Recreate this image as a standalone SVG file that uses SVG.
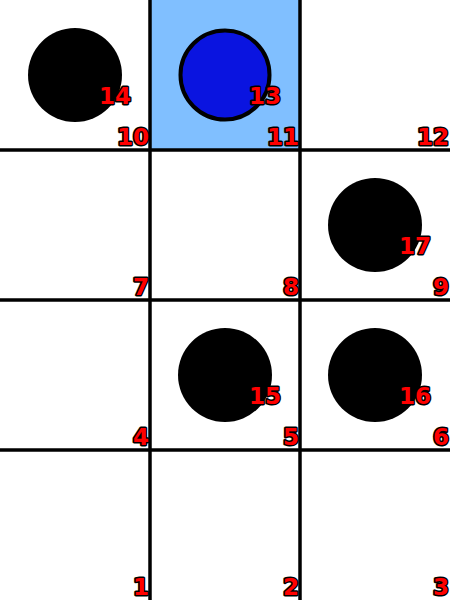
<svg xmlns="http://www.w3.org/2000/svg" width="450" height="600" viewBox="0 0 450 600">
<style>
.lbl{font-family:"DejaVu Sans",sans-serif;font-weight:bold;font-size:23px;fill:#ff0000;stroke:#000;stroke-width:3;stroke-linejoin:round;paint-order:stroke;text-anchor:end}
.grid{stroke:#000;stroke-width:3.5}
.ball{fill:#000}
</style>
<rect width="450" height="600" fill="#fff"/>
<rect x="150" y="0" width="150" height="150" fill="#80bfff"/>
<g id="connectors">
<line class="grid" x1="150" y1="0" x2="150" y2="600"/>
<line class="grid" x1="300" y1="0" x2="300" y2="600"/>
<line class="grid" x1="0" y1="150" x2="450" y2="150"/>
<line class="grid" x1="0" y1="300" x2="450" y2="300"/>
<line class="grid" x1="0" y1="450" x2="450" y2="450"/>
</g>
<g id="n14"><circle class="ball" cx="75" cy="75" r="47"/><text class="lbl" x="131" y="104">14</text></g>
<g id="n13"><circle cx="225" cy="75" r="44.5" fill="#0a14e0" stroke="#000" stroke-width="4"/><text class="lbl" x="281" y="104">13</text></g>
<g id="n17"><circle class="ball" cx="375" cy="225" r="47"/><text class="lbl" x="431" y="254">17</text></g>
<g id="n15"><circle class="ball" cx="225" cy="375" r="47"/><text class="lbl" x="281" y="404">15</text></g>
<g id="n16"><circle class="ball" cx="375" cy="375" r="47"/><text class="lbl" x="431" y="404">16</text></g>
<g id="n10"><text class="lbl" x="149" y="145">10</text></g>
<g id="n11"><text class="lbl" x="299" y="145">11</text></g>
<g id="n12"><text class="lbl" x="449" y="145">12</text></g>
<g id="n7"><text class="lbl" x="149" y="295">7</text></g>
<g id="n8"><text class="lbl" x="299" y="295">8</text></g>
<g id="n9"><text class="lbl" x="449" y="295">9</text></g>
<g id="n4"><text class="lbl" x="149" y="445">4</text></g>
<g id="n5"><text class="lbl" x="299" y="445">5</text></g>
<g id="n6"><text class="lbl" x="449" y="445">6</text></g>
<g id="n1"><text class="lbl" x="149" y="595">1</text></g>
<g id="n2"><text class="lbl" x="299" y="595">2</text></g>
<g id="n3"><text class="lbl" x="449" y="595">3</text></g>
</svg>
